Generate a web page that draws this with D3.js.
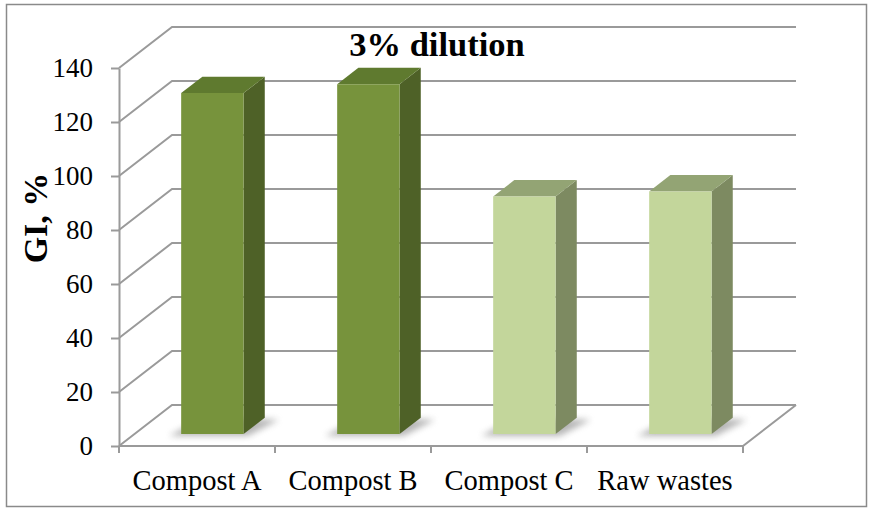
<!DOCTYPE html>
<html>
<head>
<meta charset="utf-8">
<script src="https://cdn.jsdelivr.net/npm/d3@7"></script>
<style>
  html, body { margin: 0; padding: 0; background: #fff; }
  svg { display: block; }
</style>
</head>
<body>
<svg id="chart" width="869" height="508"></svg>
<script>
// ---- data ----
const categories = ["Compost A", "Compost B", "Compost C", "Raw wastes"];
const giValues = [126.3, 129.6, 88.0, 89.9];
const yTicks = [0, 20, 40, 60, 80, 100, 120, 140];
const chartTitle = "3% dilution";
const yTitle = "GI, %";

// ---- styles ----
const darkStyle = { front: "#77933C", side: "#4E6127", top: "#5F7A2F" };
const lightStyle = { front: "#C3D69B", side: "#7D8A61", top: "#93A474" };
const barStyles = [darkStyle, darkStyle, lightStyle, lightStyle];
const gridColor = "#9a9a9a";
const fontFamily = "Liberation Serif";

const svg = d3.select("#chart");

// outer border
svg.append("rect").attr("x", 6.5).attr("y", 4.5).attr("width", 860).attr("height", 502)
  .attr("fill", "#fff").attr("stroke", "#8a8a8a").attr("stroke-width", 1.5);

// ---- scales ----
const x = d3.scaleBand().domain(categories).range([119, 743]).paddingInner(0.6).paddingOuter(0.3);
const y = d3.scaleLinear().domain([0, 140]).range([446, 68]);
const DX = 53, DY = -41;     // depth offset of back wall
const z0 = 0.29, z1 = 0.69;  // bar depth span

const proj = (px, py, z) => [px + z * DX, py + z * DY];
const xLeft = x.range()[0], xRight = x.range()[1];

// blur filter for floor shadows
const defs = svg.append("defs");
const f = defs.append("filter").attr("id", "blur").attr("x", "-50%").attr("y", "-50%").attr("width", "200%").attr("height", "200%");
f.append("feGaussianBlur").attr("stdDeviation", 3);

// ---- gridlines (left wall + back wall) ----
const grid = svg.append("g");
yTicks.forEach(t => {
  grid.append("path")
    .attr("d", d3.line()([[xLeft, y(t)], proj(xLeft, y(t), 1), proj(xRight, y(t), 1)]))
    .attr("fill", "none").attr("stroke", gridColor).attr("stroke-width", 2);
});
// floor front and right edges
grid.append("path")
  .attr("d", d3.line()([[xLeft, y(0)], [xRight, y(0)], proj(xRight, y(0), 1)]))
  .attr("fill", "none").attr("stroke", gridColor).attr("stroke-width", 2);

// ---- bars ----
const bars = svg.append("g");
categories.forEach((c, i) => {
  const v = giValues[i];
  const st = barStyles[i];
  const xa = x(c), xb = x(c) + x.bandwidth();
  const b0 = y(0), t0 = y(v);
  const A = proj(xa, b0, z0), B = proj(xb, b0, z0), C = proj(xb, b0, z1);
  const At = proj(xa, t0, z0), Bt = proj(xb, t0, z0), Ct = proj(xb, t0, z1), Dt = proj(xa, t0, z1);
  const Ds = proj(xa, b0, z1);
  bars.append("path")
    .attr("d", d3.line()([[A[0] - 12, A[1] + 2], [B[0] + 4, B[1] + 2], [C[0] + 14, C[1] + 2], [Ds[0], Ds[1]]]) + "Z")
    .attr("fill", "#7a7a7a").attr("opacity", 0.55).attr("filter", "url(#blur)");
  bars.append("path").attr("d", d3.line()([B, C, Ct, Bt]) + "Z").attr("fill", st.side);
  bars.append("path").attr("d", d3.line()([At, Bt, Ct, Dt]) + "Z").attr("fill", st.top);
  bars.append("path").attr("d", d3.line()([A, B, Bt, At]) + "Z").attr("fill", st.front);
});

// ---- y axis ----
const yAxis = d3.axisLeft(y).tickValues(yTicks).tickSize(8).tickSizeOuter(0).tickPadding(18);
const gy = svg.append("g").attr("transform", `translate(${xLeft},0)`).call(yAxis)
  .attr("font-family", fontFamily).attr("font-size", 27);
gy.select(".domain").attr("stroke", gridColor).attr("stroke-width", 2);
gy.selectAll(".tick line").attr("stroke", gridColor).attr("stroke-width", 2);
gy.selectAll(".tick text").attr("fill", "#000");

// ---- x axis ticks at band boundaries ----
const bounds = categories.map(c => x(c) - x.step() * x.paddingInner() / 2);
bounds.push(xRight);
svg.append("g").selectAll("line").data(bounds).join("line")
  .attr("x1", d => d).attr("x2", d => d).attr("y1", y(0)).attr("y2", y(0) + 7)
  .attr("stroke", gridColor).attr("stroke-width", 2);

// category labels (centered on front band)
const xAxis = d3.axisBottom(x.copy().paddingInner(0).paddingOuter(0)).tickSize(0).tickPadding(0);
const gx = svg.append("g").attr("transform", `translate(0,${y(0)})`).call(xAxis)
  .attr("font-family", fontFamily).attr("font-size", 28.5);
gx.select(".domain").remove();
gx.selectAll(".tick text").attr("fill", "#000").attr("dy", null).attr("y", 44);

// ---- titles ----
svg.append("text").attr("x", 437).attr("y", 56).attr("text-anchor", "middle")
  .attr("font-family", fontFamily).attr("font-weight", "bold").attr("font-size", 34.5)
  .text(chartTitle);

svg.append("text").attr("transform", "translate(47,218) rotate(-90)").attr("text-anchor", "middle")
  .attr("font-family", fontFamily).attr("font-weight", "bold").attr("font-size", 34)
  .text(yTitle);
</script>
</body>
</html>
